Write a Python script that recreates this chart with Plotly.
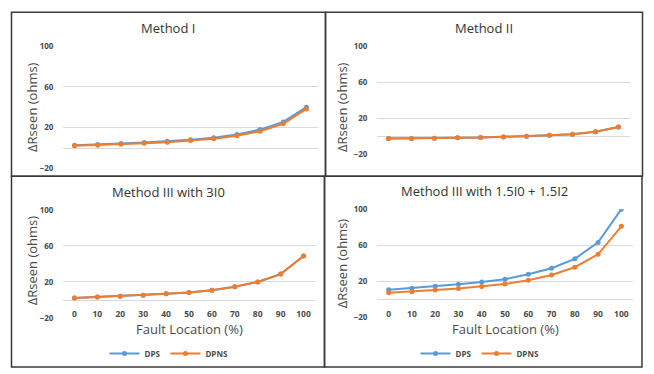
import plotly.graph_objects as go

# Fault location along the line (%) — category axis
locations = [0, 10, 20, 30, 40, 50, 60, 70, 80, 90, 100]
y_ticks = [-20, 20, 60, 100]

# ΔRseen (ohms) for each method
m1_dps = [2.4, 3.0, 4.0, 5.0, 6.2, 7.8, 9.8, 13.0, 17.8, 25.4, 40.0]
m1_dpns = [1.8, 2.4, 3.4, 4.3, 5.3, 6.9, 8.8, 11.7, 16.2, 23.5, 38.2]

m2_dps = [-2.5, -2.5, -2.2, -1.8, -1.5, -0.9, 0.0, 1.1, 2.2, 5.1, 10.2]
m2_dpns = [-2.5, -2.5, -2.2, -1.8, -1.5, -0.9, 0.0, 1.1, 2.2, 5.1, 10.2]

m3a_dps = [2.2, 3.2, 4.3, 5.4, 6.8, 8.2, 10.8, 14.7, 20.0, 28.7, 48.7]
m3a_dpns = [2.2, 3.2, 4.3, 5.4, 6.8, 8.2, 10.8, 14.7, 20.0, 28.7, 48.7]

m3b_dps = [10.7, 12.5, 14.6, 16.8, 19.3, 22.5, 27.9, 34.6, 45.0, 63.2, 100.0]
m3b_dpns = [7.5, 8.6, 10.4, 12.1, 14.3, 17.1, 21.4, 27.1, 35.7, 50.0, 81.0]

titles = ["Method I", "Method II", "Method III with 3I0", "Method III with 1.5I0 + 1.5I2"]
series = [(m1_dps, m1_dpns), (m2_dps, m2_dpns), (m3a_dps, m3a_dpns), (m3b_dps, m3b_dpns)]

W, H = 654, 374
BLUE, ORANGE = "#5B9BD5", "#ED7D31"
GRID = "#D9D9D9"
TEXT = "#4A4A4A"
FONT = "Open Sans"


def fx(p):
    return p / W


def fy(p):
    return 1 - p / H


# panel layout in pixels: plot area x0,x1 ; y of 100 and -20 ; frame box ; title/label centres
panels = [
    dict(x=(63, 318), y=(41.7, 166.7), frame=(11.5, 6.5, 325.5, 175.5),
         title=(168, 23), ytitle=(32, 104), xtitle=None, legend=None),
    dict(x=(377, 630), y=(41.7, 152.7), frame=(325.5, 6.5, 642.5, 175.5),
         title=(484, 23), ytitle=(342, 104), xtitle=None, legend=None),
    dict(x=(63, 315), y=(210, 321.5), frame=(11.5, 175.5, 324.5, 372),
         title=(168, 192), ytitle=(32, 262), xtitle=(189, 333), legend=(169, 358)),
    dict(x=(377, 633), y=(209.3, 321), frame=(324.5, 175.5, 642, 372),
         title=(484, 191), ytitle=(342, 265), xtitle=(505, 333), legend=(480, 358)),
]

fig = go.Figure()
annotations = []
shapes = []
layout = {}

for i, (p, (dps, dpns), title) in enumerate(zip(panels, series, titles)):
    n = i + 1
    xa = "x" if n == 1 else f"x{n}"
    ya = "y" if n == 1 else f"y{n}"
    xkey = "xaxis" if n == 1 else f"xaxis{n}"
    ykey = "yaxis" if n == 1 else f"yaxis{n}"

    y_dom = [fy(p["y"][1]), fy(p["y"][0])]
    zero_pos = y_dom[0] + (y_dom[1] - y_dom[0]) * (0 - (-20)) / 120

    leg = None
    if p["legend"] is not None:
        leg = "legend" if n == 3 else "legend2"

    for name, vals, color in (("DPS", dps, BLUE), ("DPNS", dpns, ORANGE)):
        fig.add_trace(go.Scatter(
            x=locations, y=vals, name=name, mode="lines+markers",
            line=dict(color=color, width=2),
            marker=dict(color=color, size=5, symbol="circle"),
            xaxis=xa, yaxis=ya,
            showlegend=leg is not None,
            legend=leg if leg else "legend",
        ))

    layout[xkey] = dict(
        domain=[fx(p["x"][0]), fx(p["x"][1])],
        range=[-5, 105], tickvals=locations,
        ticktext=[str(v) for v in locations],
        anchor="free", position=zero_pos,
        showline=True, linecolor=GRID, linewidth=1,
        showgrid=False, zeroline=False, layer="below traces",
        showticklabels=p["xtitle"] is not None,
        ticks="outside", ticklen=6, tickcolor="rgba(0,0,0,0)",
        tickfont=dict(family=FONT, size=8.5, color=TEXT, weight="bold"),
        fixedrange=True,
    )
    layout[ykey] = dict(
        domain=y_dom, anchor=xa,
        range=[-20, 100], tickvals=y_ticks,
        showgrid=True, gridcolor=GRID, gridwidth=1,
        zeroline=False, showline=False, layer="below traces",
        ticks="outside", ticklen=7, tickcolor="rgba(0,0,0,0)",
        tickfont=dict(family=FONT, size=8, color=TEXT, weight="bold"),
        fixedrange=True,
    )

    annotations.append(dict(
        text=title, x=fx(p["title"][0]), y=fy(p["title"][1]),
        xref="paper", yref="paper", showarrow=False,
        xanchor="center", yanchor="middle",
        font=dict(family=FONT, size=13, color="#333333"),
    ))
    annotations.append(dict(
        text="ΔRseen (ohms)", x=fx(p["ytitle"][0]), y=fy(p["ytitle"][1]),
        xref="paper", yref="paper", showarrow=False, textangle=-90,
        xanchor="center", yanchor="middle",
        font=dict(family=FONT, size=13, color=TEXT),
    ))
    if p["xtitle"] is not None:
        annotations.append(dict(
            text="Fault Location (%)", x=fx(p["xtitle"][0]), y=fy(p["xtitle"][1]),
            xref="paper", yref="paper", showarrow=False,
            xanchor="center", yanchor="middle",
            font=dict(family=FONT, size=13, color=TEXT),
        ))
    if leg is not None:
        layout[leg] = dict(
            x=fx(p["legend"][0]), y=fy(p["legend"][1]),
            xanchor="center", yanchor="middle",
            orientation="h", itemwidth=30,
            bgcolor="rgba(0,0,0,0)",
            font=dict(family=FONT, size=8, color=TEXT, weight="bold"),
            tracegroupgap=0, itemclick=False, itemdoubleclick=False,
        )

    x0, y0, x1, y1 = p["frame"]
    shapes.append(dict(
        type="rect", xref="paper", yref="paper",
        x0=fx(x0), x1=fx(x1), y0=fy(y1), y1=fy(y0),
        line=dict(color="#3A3A3A", width=1.5), fillcolor="rgba(0,0,0,0)",
        layer="below",
    ))

fig.update_layout(
    width=W, height=H,
    margin=dict(l=0, r=0, t=0, b=0),
    paper_bgcolor="white", plot_bgcolor="white",
    annotations=annotations, shapes=shapes,
    **layout,
)

fig.write_html("out.html", config={"displayModeBar": False})
